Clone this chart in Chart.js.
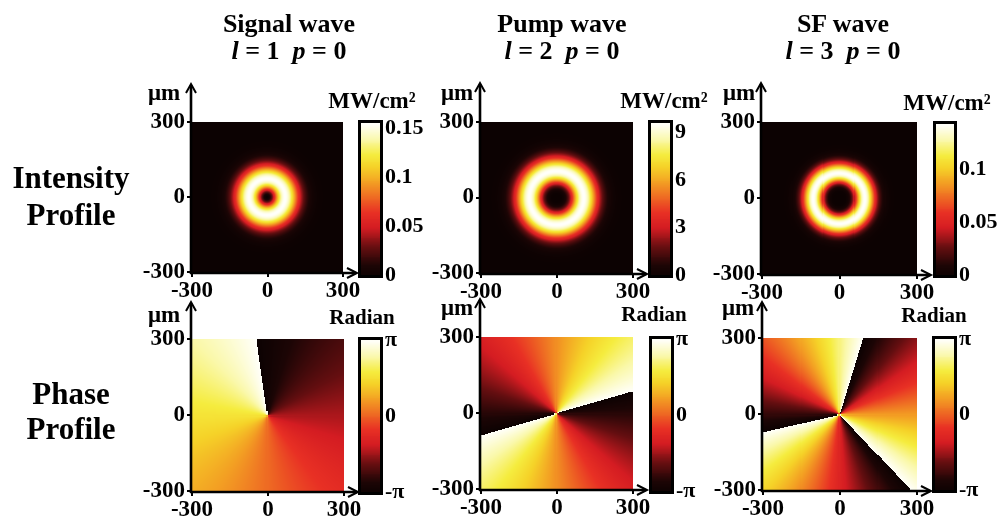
<!DOCTYPE html>
<html><head><meta charset="utf-8">
<script src="https://cdn.jsdelivr.net/npm/chart.js@4/dist/chart.umd.min.js"></script>
<style>
html,body{margin:0;padding:0;background:#fff}
body{width:1002px;height:517px;overflow:hidden;position:relative;font-family:"Liberation Serif","Times New Roman",serif;font-weight:bold;color:#000}
canvas{position:absolute;left:0;top:0}
.t{position:absolute;white-space:nowrap;transform:translate(-50%,-50%);line-height:1}
</style></head><body>
<script>
// ---------------- data ----------------
const waveNames = ['Signal wave', 'Pump wave', 'SF wave'];
const charges = [1, 2, 3];              // topological charge l
const radialOrders = [0, 0, 0];         // radial index p
const beamWaistUm = [103, 107, 81];     // beam waist (μm)
const peakIntensity = [0.155, 9.6, 0.143]; // MW/cm², colour-bar maximum
const phaseCutDeg = [98, 16, 73];       // angle of a ±π phase jump
const positionTicks = [-300, 0, 300];   // μm
const intensityTicks = [[0, 0.05, 0.1, 0.15], [0, 3, 6, 9], [0, 0.05, 0.1]];
const phaseTicks = [-Math.PI, 0, Math.PI];
const phaseTickLabels = ['-π', '0', 'π'];
const rowLabels = [['Intensity', 'Profile'], ['Phase', 'Profile']];

// ---------------- layout / style ----------------
const W = 1002, H = 517;
const AXIS_W = 70, AXIS_H = 34, BAR_AXIS_W = 60;
const plotBoxes = [
  [[192, 122, 343, 272], [481, 122, 633, 273], [762, 122, 917, 274]],
  [[192, 339, 344, 491], [481, 337, 633, 489], [763, 338, 917, 490]]
];
const barBoxes = [
  [[361, 123, 380, 275], [651, 123, 670, 275], [936, 124, 954, 275]],
  [[361, 340, 380, 492], [652, 339, 671, 491], [935, 339, 954, 490]]
];
const arrowUp = [[37, 38, 38], [36, 37, 35]];
const FONT = '"Liberation Serif","Times New Roman",serif';
const tickFont = { family: FONT, size: 23, weight: 'bold' };
const barFont = { family: FONT, size: 22, weight: 'bold' };

const cmapStops = [
  [0.00, 12, 2, 2], [0.07, 28, 5, 5], [0.19, 100, 14, 16], [0.32, 212, 28, 34],
  [0.42, 232, 48, 36], [0.52, 238, 105, 35], [0.62, 243, 160, 35], [0.72, 245, 210, 40],
  [0.80, 245, 236, 62], [0.90, 250, 248, 170], [1.00, 255, 255, 250]
];
function colour(t) {
  t = Math.max(0, Math.min(1, t));
  for (let i = 1; i < cmapStops.length; i++) {
    const a = cmapStops[i - 1], b = cmapStops[i];
    if (t <= b[0]) {
      const f = (t - a[0]) / (b[0] - a[0]);
      return 'rgb(' + Math.round(a[1] + f * (b[1] - a[1])) + ',' + Math.round(a[2] + f * (b[2] - a[2])) + ',' + Math.round(a[3] + f * (b[3] - a[3])) + ')';
    }
  }
  return 'rgb(255,255,250)';
}

function laguerre(p, l, x) {
  let L0 = 1, L1 = 1 + l - x;
  if (p === 0) return L0;
  for (let k = 1; k < p; k++) { const L2 = ((2 * k + 1 + l - x) * L1 - (k + l) * L0) / (k + 1); L0 = L1; L1 = L2; }
  return L1;
}
// LG intensity (peak = peakIntensity for p = 0)
function intensityAt(c, x, y) {
  const l = charges[c], p = radialOrders[c], w = beamWaistUm[c];
  const s = 2 * (x * x + y * y) / (w * w);
  const L = laguerre(p, l, s);
  return peakIntensity[c] * Math.pow(s / l, l) * Math.exp(l - s) * L * L;
}
function phaseAt(c, x, y) {
  const l = charges[c], cut = phaseCutDeg[c] * Math.PI / 180;
  let ph = Math.PI - l * (Math.atan2(y, x) - cut);
  ph = ((ph + Math.PI) % (2 * Math.PI) + 2 * Math.PI) % (2 * Math.PI) - Math.PI;
  return ph;
}

function makeCtx() {
  const cv = document.createElement('canvas');
  cv.width = W; cv.height = H; cv.style.width = W + 'px'; cv.style.height = H + 'px';
  document.body.appendChild(cv);
  return cv.getContext('2d');
}

const heatPlugin = (valueFn, vmin, vmax, cells) => ({
  id: 'heat',
  beforeDatasetsDraw(chart) {
    const { ctx, scales: { x, y } } = chart;
    const sx = (x.max - x.min) / cells, sy = (y.max - y.min) / cells;
    ctx.save();
    for (let i = 0; i < cells; i++) {
      const x0 = x.min + i * sx, x1 = x0 + sx;
      const px0 = Math.floor(x.getPixelForValue(x0)), px1 = Math.ceil(x.getPixelForValue(x1));
      for (let j = 0; j < cells; j++) {
        const y0 = y.min + j * sy, y1 = y0 + sy;
        const py0 = Math.floor(y.getPixelForValue(y1)), py1 = Math.ceil(y.getPixelForValue(y0));
        const v = valueFn(x0 + sx / 2, y0 + sy / 2);
        ctx.fillStyle = colour((v - vmin) / (vmax - vmin));
        ctx.fillRect(px0, py0, px1 - px0, py1 - py0);
      }
    }
    ctx.restore();
  }
});

const arrowPlugin = (extUp, extRight) => ({
  id: 'arrows',
  afterDraw(chart) {
    const { ctx, chartArea: { left, top, right, bottom } } = chart;
    const ax = left - 1, ay = bottom + 1;
    ctx.save();
    ctx.strokeStyle = '#000'; ctx.lineWidth = 2.6;
    ctx.beginPath();
    ctx.moveTo(ax, ay + 1); ctx.lineTo(ax, top - extUp);
    ctx.moveTo(ax - 1, ay); ctx.lineTo(right + extRight, ay);
    ctx.stroke();
    ctx.lineWidth = 2;
    ctx.beginPath();
    ctx.moveTo(ax - 5, top - extUp + 8); ctx.lineTo(ax, top - extUp - 1); ctx.lineTo(ax + 5, top - extUp + 8);
    ctx.moveTo(right + extRight - 9, ay - 5); ctx.lineTo(right + extRight + 1, ay); ctx.lineTo(right + extRight - 9, ay + 5);
    ctx.stroke();
    ctx.restore();
  }
});

const barPlugin = (vmin, vmax, steps) => ({
  id: 'bar',
  beforeDatasetsDraw(chart) {
    const { ctx, scales: { y }, chartArea: { left, right } } = chart;
    const dv = (vmax - vmin) / steps;
    ctx.save();
    for (let k = 0; k < steps; k++) {
      const v0 = vmin + k * dv, v1 = v0 + dv;
      const p0 = Math.ceil(y.getPixelForValue(v0)), p1 = Math.floor(y.getPixelForValue(v1));
      ctx.fillStyle = colour((v0 + dv / 2 - vmin) / (vmax - vmin));
      ctx.fillRect(left, p1, right - left, p0 - p1 + 1);
    }
    ctx.restore();
  },
  afterDraw(chart) {
    const { ctx, chartArea: { left, top, right, bottom } } = chart;
    ctx.save(); ctx.strokeStyle = '#000'; ctx.lineWidth = 3;
    ctx.strokeRect(left - 1.5, top - 1.5, right - left + 3, bottom - top + 3);
    ctx.restore();
  }
});

const baseOpts = () => ({
  responsive: false, animation: false, devicePixelRatio: 1, events: [],
  plugins: { legend: { display: false }, tooltip: { enabled: false }, title: { display: false } }
});

function heatChart(row, col) {
  const [l, t, r, b] = plotBoxes[row][col];
  const fn = row === 0 ? (x, y) => intensityAt(col, x, y) : (x, y) => phaseAt(col, x, y);
  const vmin = row === 0 ? 0 : -Math.PI, vmax = row === 0 ? peakIntensity[col] : Math.PI;
  const axisCommon = {
    type: 'linear', min: positionTicks[0], max: positionTicks[positionTicks.length - 1],
    afterBuildTicks: s => { s.ticks = positionTicks.map(v => ({ value: v })); },
    grid: { display: true, drawOnChartArea: false, drawTicks: true, tickLength: 5, color: '#000', lineWidth: 2 },
    border: { display: false },
    ticks: { font: tickFont, color: '#000', autoSkip: false, maxRotation: 0, callback: v => String(v) }
  };
  const opts = baseOpts();
  opts.layout = { padding: { left: l - AXIS_W, top: t, right: W - r, bottom: H - b - AXIS_H } };
  opts.scales = {
    x: Object.assign({}, axisCommon, { afterFit: s => { s.height = AXIS_H; }, ticks: Object.assign({}, axisCommon.ticks, { padding: 0 }) }),
    y: Object.assign({}, axisCommon, { afterFit: s => { s.width = AXIS_W; }, ticks: Object.assign({}, axisCommon.ticks, { padding: 2 }) })
  };
  new Chart(makeCtx(), {
    type: 'scatter',
    data: { datasets: [{ data: [], pointRadius: 0 }] },
    options: opts,
    plugins: [heatPlugin(fn, vmin, vmax, 150), arrowPlugin(arrowUp[row][col], 13)]
  });
}

function barChart(row, col) {
  const [l, t, r, b] = barBoxes[row][col];
  const vmin = row === 0 ? 0 : -Math.PI, vmax = row === 0 ? peakIntensity[col] : Math.PI;
  const ticks = row === 0 ? intensityTicks[col] : phaseTicks;
  const labels = row === 0 ? intensityTicks[col].map(String) : phaseTickLabels;
  const opts = baseOpts();
  opts.layout = { padding: { left: l, top: t, right: W - r - BAR_AXIS_W, bottom: H - b } };
  opts.scales = {
    x: { type: 'linear', display: false, min: 0, max: 1 },
    y: {
      type: 'linear', position: 'right', min: vmin, max: vmax,
      afterBuildTicks: s => { s.ticks = ticks.map(v => ({ value: v })); },
      afterFit: s => { s.width = BAR_AXIS_W; },
      grid: { display: false, drawTicks: false, tickLength: 0 }, border: { display: false },
      ticks: { font: barFont, color: '#000', padding: 5, autoSkip: false, callback: (v, i) => labels[i] }
    }
  };
  new Chart(makeCtx(), {
    type: 'scatter',
    data: { datasets: [{ data: [], pointRadius: 0 }] },
    options: opts,
    plugins: [barPlugin(vmin, vmax, 160)]
  });
}

for (let row = 0; row < 2; row++) for (let col = 0; col < 3; col++) { heatChart(row, col); barChart(row, col); }

// ---------------- text ----------------
function text(html, x, y, size) {
  const d = document.createElement('div');
  d.className = 't'; d.innerHTML = html;
  d.style.left = x + 'px'; d.style.top = y + 'px'; d.style.fontSize = size + 'px';
  document.body.appendChild(d);
}
const titleX = [289, 562, 843];
waveNames.forEach((n, c) => {
  text(n, titleX[c], 24, 26);
  text('<i>l</i> = ' + charges[c] + '&nbsp;&nbsp;<i>p</i> = ' + radialOrders[c], titleX[c], 51, 26);
});
text(rowLabels[0][0], 71, 177, 31); text(rowLabels[0][1], 71, 214, 31);
text(rowLabels[1][0], 71, 393, 31); text(rowLabels[1][1], 71, 428, 31);
const umPos = [[[164, 92], [457, 92], [739, 92]], [[164, 314], [457, 307], [738, 307]]];
umPos.forEach(r => r.forEach(([x, y]) => text('μm', x, y, 23)));
const unitPos = [[372, 100], [664, 100], [947, 102]];
unitPos.forEach(([x, y]) => text('MW/cm²', x, y, 23));
const radPos = [[362, 317], [654, 314], [934, 315]];
radPos.forEach(([x, y]) => text('Radian', x, y, 21));
</script>
</body></html>
